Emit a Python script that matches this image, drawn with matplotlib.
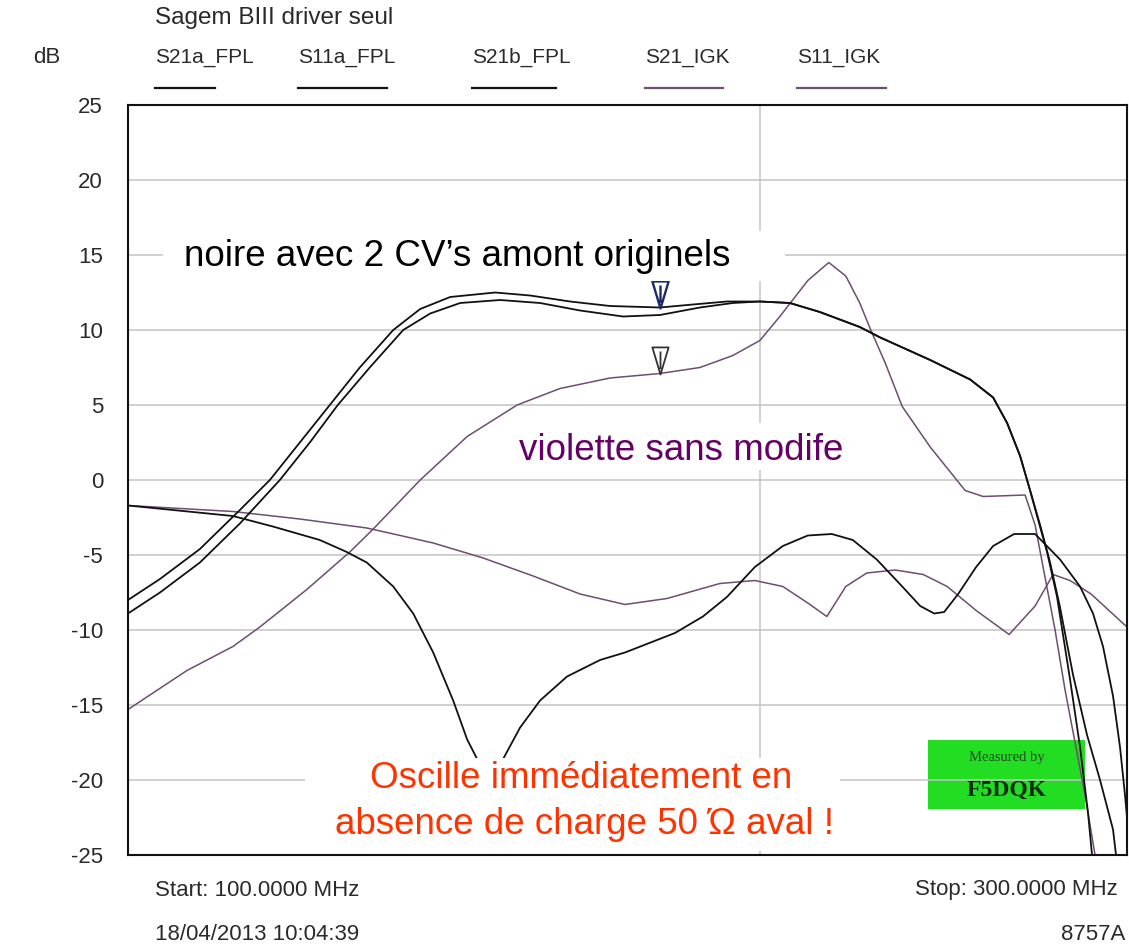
import numpy as np
import matplotlib
matplotlib.use("Agg")
from matplotlib import pyplot as plt, patches as pth
from matplotlib.path import Path
from matplotlib.lines import Line2D

plt.rcParams['font.family'] = ['Liberation Sans', 'DejaVu Sans']

# --- data (MHz, dB) ---
s21a_f = [100.0, 106.4, 114.4, 122.4, 128.4, 134.4, 140.4, 146.4, 153.1, 158.5, 164.5, 173.5,
          180.5, 188.5, 196.5, 206.5, 213.1, 219.9, 226.5, 232.5, 238.5, 246.5, 250.6, 260.6,
          268.6, 273.2, 276.0, 278.6, 280.6, 282.0, 284.0, 286.0, 288.6, 290.6, 292.2, 293.0]
s21a_db = [-8.0, -6.6, -4.6, -2.0, 0.0, 2.5, 5.0, 7.5, 10.0, 11.4, 12.2, 12.5,
           12.3, 11.9, 11.6, 11.5, 11.7, 11.9, 11.9, 11.8, 11.2, 10.2, 9.5, 8.0,
           6.7, 5.5, 3.8, 1.6, -0.7, -2.4, -4.8, -7.8, -13.3, -17.8, -22.2, -25.0]

s21b_f = [100.0, 106.4, 114.4, 122.4, 130.4, 136.4, 142.0, 148.4, 155.1, 160.5, 166.5, 174.5,
          182.5, 190.5, 199.1, 206.5, 214.5, 221.1, 226.5, 232.5, 238.5, 246.5, 250.6, 260.6,
          268.6, 273.2, 276.0, 278.6, 280.6, 282.6, 284.6, 286.6, 289.2, 292.0, 294.6, 297.2, 297.8]
s21b_db = [-8.9, -7.5, -5.5, -2.9, 0.0, 2.5, 5.0, 7.5, 10.0, 11.1, 11.8, 12.0,
           11.8, 11.3, 10.9, 11.0, 11.5, 11.8, 11.9, 11.8, 11.2, 10.2, 9.5, 8.0,
           6.7, 5.5, 3.8, 1.6, -0.7, -3.0, -5.5, -8.5, -13.0, -17.0, -20.0, -23.3, -25.0]

s11a_f = [100.0, 121.0, 129.0, 138.4, 143.8, 147.8, 153.1, 157.1, 161.1, 165.1, 167.9, 169.9,
          172.5, 175.1, 178.5, 182.5, 187.9, 194.5, 199.5, 209.5, 215.1, 219.9, 225.5, 231.1,
          236.1, 240.9, 245.1, 249.9, 255.0, 258.6, 261.4, 263.4, 266.2, 269.8, 273.2, 277.4,
          281.6, 286.6, 290.6, 293.2, 295.2, 297.2, 298.6, 299.6, 300.0]
s11a_db = [-1.7, -2.4, -3.1, -4.0, -4.8, -5.5, -7.1, -8.9, -11.5, -14.7, -17.3, -18.6,
           -24.0, -18.6, -16.5, -14.7, -13.1, -12.0, -11.5, -10.2, -9.1, -7.8, -5.8, -4.4,
           -3.7, -3.6, -4.0, -5.3, -7.1, -8.4, -8.9, -8.8, -7.6, -5.8, -4.4, -3.6,
           -3.6, -5.3, -7.1, -8.9, -11.1, -14.4, -17.8, -21.0, -22.5]

s21_igk_f = [100.0, 111.8, 121.0, 126.4, 135.8, 144.4, 149.0, 158.5, 167.9, 177.9, 186.5, 196.5,
             206.5, 214.5, 221.1, 226.5, 230.5, 236.1, 240.3, 243.7, 246.5, 248.7, 251.6, 255.0,
             260.6, 267.6, 271.2, 279.6, 281.6, 283.6, 285.6, 287.6, 289.6, 291.6, 293.6]
s21_igk_db = [-15.3, -12.7, -11.1, -9.8, -7.3, -4.8, -3.3, 0.0, 2.9, 5.0, 6.1, 6.8,
              7.1, 7.5, 8.3, 9.3, 10.9, 13.3, 14.5, 13.6, 11.8, 10.0, 7.8, 4.9,
              2.2, -0.7, -1.1, -1.0, -3.0, -6.5, -10.0, -14.0, -17.5, -21.0, -25.0]

s11_igk_f = [100.0, 121.0, 134.4, 147.8, 154.5, 161.1, 171.1, 181.1, 190.5, 199.5, 207.9, 218.5,
             225.5, 231.1, 236.1, 239.9, 243.7, 247.9, 253.6, 259.2, 264.0, 269.8, 276.4, 281.6,
             285.2, 288.6, 292.8, 300.0]
s11_igk_db = [-1.7, -2.1, -2.6, -3.2, -3.7, -4.2, -5.2, -6.4, -7.6, -8.3, -7.9, -6.9,
              -6.7, -7.1, -8.2, -9.1, -7.1, -6.2, -6.0, -6.3, -7.1, -8.7, -10.3, -8.4,
              -6.3, -6.7, -7.6, -9.8]

trace_names = ["S21a_FPL", "S11a_FPL", "S21b_FPL", "S21_IGK", "S11_IGK"]
y_ticks = [25, 20, 15, 10, 5, 0, -5, -10, -15, -20, -25]
marker_freq = 206.5

BLACK = "#111111"
VIOLET = "#6e4d70"
TXT = "#2a2a2a"
W, H = 1129, 952


def fx(px):
    return px / W


def fy(py):
    return 1 - py / H


fig = plt.figure(figsize=(W / 100, H / 100), dpi=100)
ax = fig.add_axes([fx(128), fy(855), (1127 - 128) / W, 750 / H])
ax.set_xlim(100, 300)
ax.set_ylim(-25, 25)

ax.set_yticks(y_ticks)
ax.set_yticklabels([str(v) for v in y_ticks], fontsize=16, color=TXT)
ax.set_xticks([226.5])
ax.set_xticklabels([])
ax.tick_params(length=0, pad=18)
ax.grid(True, color="#c4c4c4", lw=1.1, zorder=0)
for sp in ax.spines.values():
    sp.set_color(BLACK)
    sp.set_linewidth(1.5)
    sp.set_zorder(10)

# traces
ax.plot(s11_igk_f, s11_igk_db, color=VIOLET, lw=1.1, zorder=2)
ax.plot(s21_igk_f, s21_igk_db, color=VIOLET, lw=1.1, zorder=2)
ax.plot(s11a_f, s11a_db, color=BLACK, lw=1.3, zorder=3)
ax.plot(s21b_f, s21b_db, color=BLACK, lw=1.3, zorder=3)
ax.plot(s21a_f, s21a_db, color=BLACK, lw=1.3, zorder=3)

# markers (tip on the trace)
tri = Path([(-0.3, 1.0), (0.3, 1.0), (0.0, 0.0), (-0.3, 1.0), (0.0, 0.85), (0.0, 0.2)],
           [Path.MOVETO, Path.LINETO, Path.LINETO, Path.CLOSEPOLY, Path.MOVETO, Path.LINETO])
m1 = np.interp(marker_freq, s21a_f, s21a_db)
m2 = np.interp(marker_freq, s21_igk_f, s21_igk_db)
ax.plot([marker_freq], [m1], marker=tri, markersize=39, mfc="none", mec="#1c2a6b", mew=1.7,
        ls="none", zorder=4)
ax.plot([marker_freq], [m2], marker=tri, markersize=39, mfc="none", mec="#333333", mew=1.3,
        ls="none", zorder=4)

# white boxes behind annotations
for (x0, x1, y0, y1) in [(107.0, 231.5, 13.3, 16.6), (175.5, 245.5, 0.7, 3.8),
                         (135.4, 242.5, -24.7, -18.5)]:
    ax.add_patch(pth.Rectangle((x0, y0), x1 - x0, y1 - y0, facecolor="white",
                               edgecolor="none", zorder=6))

ax.text(166.0, 14.9, "noire avec 2 CV’s amont originels", fontsize=26.5, color="black",
        ha="center", va="center", zorder=7)
ax.text(210.7, 2.0, "violette sans modife", fontsize=26.5, color="#660066",
        ha="center", va="center", zorder=7)
ax.text(190.7, -19.9, "Oscille immédiatement en", fontsize=26.5, color="#ff3300",
        ha="center", va="center", zorder=7)
ax.text(191.3, -23.0, "absence de charge 50 Ώ aval !", fontsize=26.5, color="#ff3300",
        ha="center", va="center", zorder=7)

# "Measured by" badge
ax.add_patch(pth.Rectangle((260.2, -21.9), 31.4, 4.6, facecolor="#22dd22",
                           edgecolor="none", zorder=1.5))
ax.text(276.0, -18.5, "Measured by", fontsize=10.5, color="#1d4d1d", ha="center",
        va="center", family="Liberation Serif", zorder=1.6)
ax.text(276.0, -20.7, "F5DQK", fontsize=17, fontweight="bold", color="#0f2f0f",
        ha="center", va="center", family="Liberation Serif", zorder=1.6)

# header / footer text
fs = 16
fig.text(fx(155), fy(18), "Sagem BIII driver seul", fontsize=17.5, color=TXT, va="center")
fig.text(fx(33), fy(63), "dB", fontsize=fs, color=TXT, va="baseline")
legend_x = [155, 298, 472, 645, 797]
legend_ul = [(155, 215), (298, 387), (472, 556), (645, 723), (797, 886)]
legend_col = [BLACK, BLACK, BLACK, VIOLET, VIOLET]
for name, x, (u0, u1), c in zip(trace_names, legend_x, legend_ul, legend_col):
    fig.text(fx(x), fy(63), name, fontsize=15, color=TXT, va="baseline")
    fig.add_artist(Line2D([fx(u0), fx(u1)], [fy(88), fy(88)], color=c, lw=1.6))

fig.text(fx(155), fy(890), "Start: 100.0000 MHz", fontsize=fs, color=TXT, va="center")
fig.text(fx(155), fy(935), "18/04/2013 10:04:39", fontsize=fs, color=TXT, va="center")
fig.text(fx(1118), fy(890), "Stop: 300.0000 MHz", fontsize=fs, color=TXT, va="center",
         ha="right")
fig.text(fx(1125), fy(935), "8757A", fontsize=fs, color=TXT, va="center", ha="right")

fig.savefig("out.png", dpi=100)
